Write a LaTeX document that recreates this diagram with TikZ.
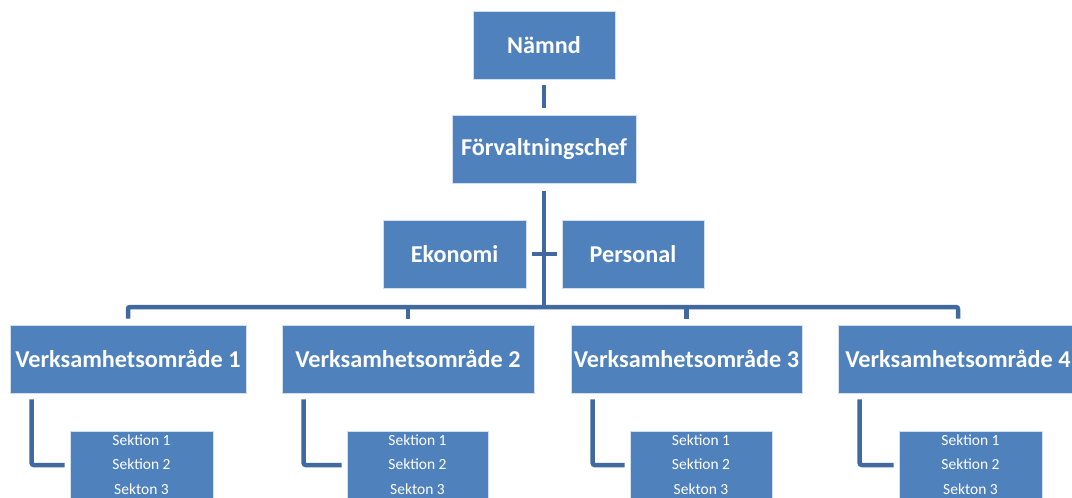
\documentclass[tikz,border=0pt]{standalone}
\usepackage{fontspec}
\setmainfont{Carlito}
\usetikzlibrary{calc}
\definecolor{boxblue}{HTML}{4F81BD}
\definecolor{lineblue}{HTML}{41689F}
\begin{document}
\begin{tikzpicture}[x=1pt,y=-1pt,
  box/.style={fill=boxblue, draw=white!75!boxblue, line width=0.6pt, text=white,
    font=\bfseries\fontsize{24.2}{28}\selectfont, minimum height=68pt, inner sep=0pt},
  sekbox/.style={fill=boxblue, draw=white!75!boxblue, line width=0.6pt,
    minimum height=74pt, inner sep=0pt, anchor=north},
  sektext/.style={text=white, font=\fontsize{15.5}{18}\selectfont, inner sep=0pt},
  conn/.style={draw=lineblue, line width=4.5pt, rounded corners=2pt}]
\path[use as bounding box] (0,0) rectangle (1072,498);
\clip (0,0) rectangle (1072,498);

\node[box, minimum width=142pt] (namnd) at (544,45) {Nämnd};
\node[box, minimum width=184pt] (forv) at (544,149.5) {Förvaltningschef};
\node[box, minimum width=143pt] (eko) at (454.5,254) {Ekonomi};
\node[box, minimum width=142pt] (pers) at (633,254) {Personal};

\coordinate (busm) at (544,307);

\foreach \i/\cx/\w/\sx/\sw in {1/128/236/141.5/143, 2/408/252/417.5/141, 3/686.5/231/701/142, 4/958/240/970.5/143}{
  \node[box, minimum width=\w pt] (v\i) at (\cx,359) {Verksamhetsområde \i};
  \node[sekbox, minimum width=\sw pt] (s\i) at (\sx,431) {};
  \node[sektext] (s\i a) at (\sx,440) {Sektion 1};
  \node[sektext] (s\i b) at (\sx,464) {Sektion 2};
  \node[sektext] (s\i c) at (\sx,489) {Sekton 3};
  \draw[conn] ($(v\i.south west)+(22,6)$) |- ($(s\i.north west)+(-5,34)$);
}

\draw[conn, shorten <=6pt, shorten >=7pt] (namnd) -- (forv);
\draw[conn] ($(forv.south)+(0,7)$) -- (forv.south |- busm);
\draw[conn] ($(eko.east)+(6,0)$) -- ($(pers.west)+(-5,0)$);
\draw[conn] ($(v1.north)+(0,-6)$) -- (v1.north |- busm) -- (v4.north |- busm) -- ($(v4.north)+(0,-6)$);
\draw[conn] ($(v2.north)+(0,-6)$) -- (v2.north |- busm);
\draw[conn] ($(v3.north)+(0,-6)$) -- (v3.north |- busm);
\end{tikzpicture}
\end{document}
